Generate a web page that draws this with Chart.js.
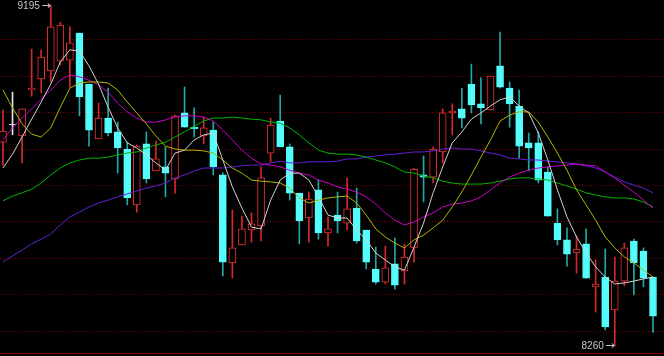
<!DOCTYPE html>
<html>
<head>
<meta charset="utf-8">
<script src="https://cdn.jsdelivr.net/npm/chart.js@4.4.0/dist/chart.umd.min.js"></script>
<style>
  html, body { margin: 0; padding: 0; background: #000; overflow: hidden; }
  #wrap { width: 664px; height: 356px; }
</style>
</head>
<body>
<div id="wrap"><canvas id="kline"></canvas></div>
<script>
// daily bars
const opens = [8819, 8866, 8836, 8962, 8992, 9014, 9041, 9044, 9118, 8978, 8828, 8885, 8847, 8800, 8647, 8814, 8740, 8751,
  8718, 8899, 8860, 8836, 8852, 8729, 8488, 8537, 8578, 8589, 8789, 8877, 8806, 8679, 8611, 8688, 8570,
  8619, 8597, 8638, 8578, 8471, 8435, 8485, 8466, 8529, 8729, 8723, 8792, 8899, 8910, 8978, 8924, 8907,
  9028, 8967, 8918, 8817, 8817, 8737, 8597, 8551, 8515, 8540, 8422, 8449, 8359, 8438, 8548, 8520, 8449]
const highs = [8907, 8956, 8910, 9074, 9072, 9195, 9148, 9135, 9118, 8978, 8926, 8967, 8874, 8819, 8811, 8847, 8822, 8806,
  8893, 8970, 8913, 8888, 8874, 8735, 8633, 8616, 8625, 8751, 8885, 8948, 8814, 8679, 8682, 8715, 8614,
  8682, 8721, 8693, 8578, 8531, 8534, 8556, 8540, 8748, 8781, 8806, 8910, 8924, 8967, 9033, 8995, 9000,
  9121, 8984, 8962, 8844, 8847, 8751, 8636, 8584, 8562, 8581, 8496, 8526, 8504, 8542, 8553, 8529, 8449]
const lows = [8756, 8839, 8762, 8945, 8954, 8984, 9030, 8970, 8891, 8808, 8828, 8836, 8734, 8647, 8627, 8707, 8740, 8669,
  8679, 8860, 8833, 8814, 8729, 8452, 8446, 8537, 8545, 8548, 8765, 8806, 8660, 8540, 8545, 8553, 8534,
  8570, 8578, 8542, 8471, 8430, 8430, 8416, 8430, 8490, 8655, 8707, 8762, 8839, 8858, 8899, 8869, 8907,
  8967, 8860, 8775, 8740, 8707, 8616, 8537, 8479, 8460, 8446, 8353, 8304, 8260, 8425, 8400, 8422, 8297]
const closes = [8849, 8866, 8910, 8967, 9052, 9135, 9140, 9091, 8943, 8852, 8885, 8844, 8803, 8666, 8808, 8718, 8773, 8734,
  8891, 8860, 8855, 8858, 8751, 8490, 8529, 8581, 8595, 8721, 8866, 8806, 8679, 8603, 8663, 8570, 8581,
  8603, 8636, 8548, 8490, 8435, 8474, 8427, 8504, 8745, 8723, 8800, 8899, 8904, 8885, 8921, 8913, 9000,
  8970, 8924, 8808, 8803, 8715, 8616, 8551, 8512, 8526, 8446, 8430, 8312, 8438, 8529, 8488, 8446, 8342]

// moving averages
const ma5 = [8748, 8786, 8833, 8882, 8929, 8978, 9039, 9072, 9069, 9028, 8978, 8915, 8858, 8817, 8803, 8784, 8762, 8742,
  8789, 8797, 8825, 8839, 8844, 8770, 8696, 8638, 8586, 8581, 8660, 8715, 8734, 8734, 8715, 8669, 8619,
  8611, 8611, 8578, 8551, 8515, 8496, 8477, 8468, 8531, 8597, 8680, 8751, 8817, 8847, 8882, 8899, 8918,
  8935, 8943, 8918, 8899, 8844, 8770, 8688, 8614, 8559, 8515, 8477, 8449, 8430, 8433, 8438, 8444, 8449]
const ma10 = [8962, 8913, 8869, 8841, 8833, 8858, 8915, 8967, 8981, 8984, 8984, 8981, 8962, 8929, 8899, 8869, 8836, 8808,
  8800, 8797, 8797, 8795, 8789, 8770, 8748, 8734, 8715, 8712, 8710, 8707, 8693, 8666, 8652, 8660, 8666,
  8669, 8671, 8652, 8619, 8581, 8559, 8542, 8529, 8551, 8564, 8584, 8605, 8641, 8682, 8729, 8778, 8825,
  8877, 8893, 8902, 8902, 8874, 8833, 8789, 8742, 8688, 8647, 8605, 8559, 8529, 8504, 8488, 8468, 8449]
const ma20 = [8825, 8858, 8885, 8910, 8937, 8962, 8989, 9003, 8998, 8989, 8976, 8956, 8926, 8902, 8885, 8874, 8874, 8880,
  8888, 8891, 8891, 8888, 8877, 8852, 8825, 8797, 8775, 8759, 8756, 8751, 8742, 8734, 8729, 8715, 8707,
  8696, 8690, 8682, 8669, 8649, 8625, 8605, 8592, 8600, 8614, 8625, 8641, 8649, 8652, 8658, 8669, 8688,
  8707, 8723, 8734, 8742, 8748, 8751, 8754, 8756, 8759, 8756, 8754, 8737, 8721, 8701, 8682, 8660, 8638]
const ma40 = [8658, 8671, 8680, 8690, 8707, 8729, 8748, 8762, 8770, 8775, 8775, 8778, 8784, 8789, 8792, 8803, 8811, 8819,
  8833, 8847, 8863, 8877, 8885, 8885, 8888, 8885, 8882, 8880, 8874, 8871, 8858, 8839, 8817, 8797, 8789,
  8786, 8786, 8784, 8778, 8770, 8762, 8751, 8737, 8734, 8726, 8721, 8712, 8707, 8704, 8704, 8704, 8707,
  8712, 8718, 8721, 8721, 8718, 8715, 8707, 8699, 8690, 8680, 8674, 8669, 8666, 8666, 8663, 8655, 8641]
const ma60 = [8490, 8507, 8523, 8540, 8553, 8567, 8592, 8614, 8627, 8641, 8652, 8660, 8669, 8677, 8685, 8693, 8699, 8707,
  8721, 8729, 8740, 8748, 8748, 8748, 8751, 8754, 8756, 8756, 8762, 8767, 8762, 8762, 8765, 8765, 8765,
  8767, 8773, 8773, 8778, 8781, 8784, 8786, 8789, 8792, 8792, 8795, 8800, 8803, 8800, 8800, 8795, 8789,
  8784, 8775, 8773, 8770, 8770, 8767, 8765, 8762, 8759, 8754, 8748, 8737, 8723, 8710, 8701, 8693, 8680]

const days = opens.map((_, i) => i + 1)

const UP = '#e83232'
const DOWN = '#54fcfc'
const FLAT = '#e6e6e6'

const kind = (i) => (closes[i] > opens[i] ? 'up' : closes[i] < opens[i] ? 'down' : 'flat')
const pick = (up, down, flat) => days.map((_, i) => ({ up, down, flat })[kind(i)])

function maLine(label, values, color) {
  return {
    type: 'line',
    label,
    data: days.map((d, i) => ({ x: d, y: values[i] })),
    borderColor: color,
    borderWidth: 1,
    pointRadius: 0,
    tension: 0,
    order: 1,
  }
}

// hi / lo markers like "9195 →", arrow tip on the wick
function markAt(ctx, text, x, y) {
  ctx.textAlign = 'right'
  ctx.textBaseline = 'middle'
  ctx.font = '11px "DejaVu Sans", sans-serif'
  ctx.fillText('\u2192', x, y)
  ctx.font = '10px "Liberation Sans", sans-serif'
  ctx.fillText(text, x - 11, y)
}

const markLabels = {
  id: 'markLabels',
  afterDatasetsDraw(chart) {
    const { ctx, scales } = chart
    const hi = Math.max(...highs)
    const lo = Math.min(...lows)
    ctx.save()
    ctx.fillStyle = '#c8c8c8'
    markAt(ctx, String(hi), scales.x.getPixelForValue(days[highs.indexOf(hi)]), scales.y.getPixelForValue(hi) + 1)
    markAt(ctx, String(lo), scales.x.getPixelForValue(days[lows.indexOf(lo)]), scales.y.getPixelForValue(lo))
    ctx.restore()
  },
}

new Chart(document.getElementById('kline'), {
  data: {
    datasets: [
      maLine('MA5', ma5, '#d2d2d2'),
      maLine('MA10', ma10, '#b4b400'),
      maLine('MA20', ma20, '#c800c8'),
      maLine('MA40', ma40, '#00b400'),
      maLine('MA60', ma60, '#6420d2'),
      {
        type: 'bar',
        label: 'body',
        data: days.map((d, i) => ({ x: d, y: [opens[i], closes[i]] })),
        backgroundColor: pick('#000000', DOWN, FLAT),
        borderColor: pick(UP, DOWN, FLAT),
        borderWidth: 1,
        borderSkipped: false,
        barThickness: 7,
        minBarLength: 1,
        grouped: false,
        order: 2,
      },
      {
        type: 'bar',
        label: 'wick',
        data: days.map((d, i) => ({ x: d, y: [lows[i], highs[i]] })),
        backgroundColor: pick('#d22a2a', '#22a6a6', FLAT),
        borderWidth: 0,
        barThickness: 1,
        grouped: false,
        order: 3,
      },
    ],
  },
  options: {
    responsive: true,
    maintainAspectRatio: false,
    animation: false,
    layout: { padding: { left: 0, right: 0, top: 0, bottom: 3 } },
    plugins: { legend: { display: false }, tooltip: { enabled: false } },
    scales: {
      x: {
        type: 'linear',
        offset: false,
        min: 0.69,
        max: 70.15,
        ticks: { display: false },
        grid: { display: false, drawTicks: false, offset: false },
        border: { display: true, color: '#8a0000', width: 1 },
      },
      y: {
        min: 8240.8,
        max: 9208.7,
        ticks: { display: false, stepSize: 100 },
        grid: {
          drawTicks: false,
          color: (c) => (c.tick && c.tick.value % 100 === 0 ? '#800000' : 'transparent'),
        },
        border: { display: false, dash: [1, 2] },
      },
    },
  },
  plugins: [markLabels],
})
</script>
</body>
</html>
